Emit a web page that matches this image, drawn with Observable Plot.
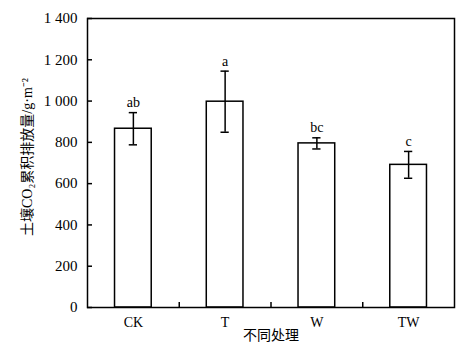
<!DOCTYPE html>
<html><head><meta charset="utf-8">
<script src="https://cdn.jsdelivr.net/npm/d3@7"></script>
<script src="https://cdn.jsdelivr.net/npm/@observablehq/plot@0.6"></script>
<style>body{margin:0;background:#fff}</style>
</head><body><div id="chart"></div>
<script>
const categories = ["CK", "T", "W", "TW"];
const means = [866, 997, 795, 691];
const errors = [78, 148, 27, 65];
const letters = ["ab", "a", "bc", "c"];
const yTicks = [0, 200, 400, 600, 800, 1000, 1200, 1400];
const yLabel = "土壤CO₂累积排放量/g·m⁻²";
const xLabel = "不同处理";

const data = categories.map((c, i) => ({c, pos: i + 1, mean: means[i], err: errors[i], letter: letters[i]}));
const pos = data.map(d => d.pos);
const bounds = pos.slice(1).map(p => p - 0.5);
const fmt = d => d >= 1000 ? d3.format(",")(d).replace(",", " ") : String(d);
const font = "'Liberation Serif', 'Noto Sans CJK SC', serif";

const chart = Plot.plot({
  width: 473, height: 355,
  marginLeft: 87, marginRight: 19, marginTop: 18, marginBottom: 48,
  style: {fontFamily: font, fontSize: "15px", color: "#000", background: "#fff"},
  x: {domain: [0.5, 4.5]},
  y: {domain: [0, 1400]},
  marks: [
    Plot.rectY(data, {x1: d => d.pos - 0.2, x2: d => d.pos + 0.2, y1: 0, y2: "mean", fill: "white", stroke: "black", strokeWidth: 1.5}),
    Plot.ruleX(data, {x: "pos", y1: d => d.mean - d.err, y2: d => d.mean + d.err, stroke: "black", strokeWidth: 1.5}),
    Plot.ruleY(data, {y: d => d.mean + d.err, x1: d => d.pos - 0.045, x2: d => d.pos + 0.045, stroke: "black", strokeWidth: 1.5}),
    Plot.ruleY(data, {y: d => d.mean - d.err, x1: d => d.pos - 0.045, x2: d => d.pos + 0.045, stroke: "black", strokeWidth: 1.5}),
    Plot.text(data, {x: "pos", y: d => d.mean + d.err, text: "letter", dy: -10, fontSize: 14, fill: "black"}),
    Plot.frame({stroke: "black", strokeWidth: 1.5}),
    Plot.axisY({ticks: yTicks, tickFormat: fmt, tickSize: -5, tickPadding: 15, label: null, strokeWidth: 1.5, fontSize: 15}),
    Plot.axisX({ticks: pos, tickFormat: d => categories[d - 1], tickSize: 0, tickPadding: 10, label: null, fontSize: 14}),
    Plot.axisX({ticks: bounds, tickFormat: () => "", tickSize: -5, label: null, strokeWidth: 1.5}),
    Plot.text([yLabel], {frameAnchor: "left", textAnchor: "middle", text: d => d, rotate: -90, dx: -60, dy: -6, fontSize: 14, fill: "black"}),
    Plot.text([xLabel], {frameAnchor: "bottom", text: d => d, dy: 32, fontSize: 14, fill: "black"})
  ]
});
document.getElementById("chart").append(chart);
</script>
</body></html>
